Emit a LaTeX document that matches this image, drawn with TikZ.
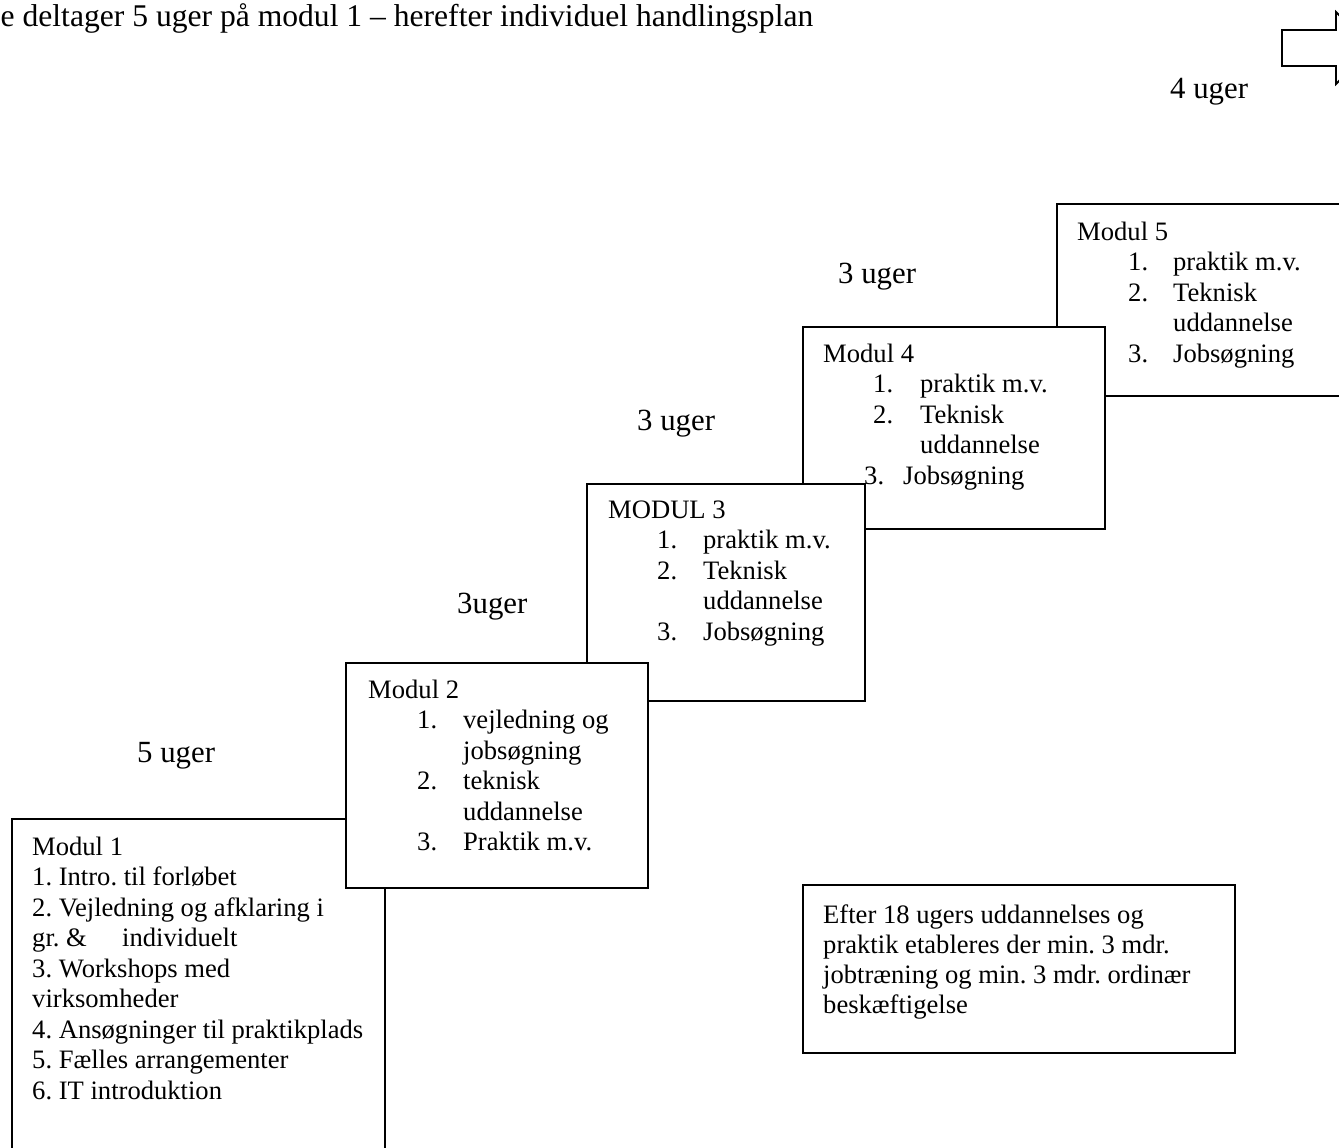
\documentclass[tikz,border=0pt]{standalone}
\usepackage{fontspec}
\setmainfont{Liberation Serif}
\frenchspacing
\begin{document}
\begin{tikzpicture}[x=1pt,y=-1pt,
  box/.style={draw,line width=1.8pt,fill=white,rectangle,inner sep=0pt,outer sep=0pt,anchor=north west},
  body/.style={anchor=base west,inner sep=0pt,font=\fontsize{26.6}{30.5}\selectfont},
  lab/.style={anchor=base west,inner sep=0pt,font=\fontsize{30.8}{36}\selectfont}]
\useasboundingbox (0,0) rectangle (1339,1148);
\clip (0,0) rectangle (1339,1148);
\fill[white] (0,0) rectangle (1339,1148);

% title and arrow
\node[lab,font=\fontsize{31.6}{36}\selectfont] (title) at (0.5,27) {e deltager 5 uger på modul 1 – herefter individuel handlingsplan};
\draw[line width=1.8pt,line join=miter] (1282,30) -- (1336,30) -- (1336,12) -- (1372,48) -- (1336,84) -- (1336,66) -- (1282,66) -- cycle;

% labels
\node[lab] (l4) at (1170,99) {4 uger};
\node[lab] (l3a) at (838,283) {3 uger};
\node[lab] (l3b) at (637,430) {3 uger};
\node[lab] (l3c) at (457,613) {3uger};
\node[lab] (l5) at (137,762) {5 uger};

% Modul 5
\node[box,minimum width=320pt,minimum height=192pt] (m5) at (1057,204) {};
\node[body] (t5) at (1077,240) {\begin{tabular}[t]{@{}l@{}}Modul 5\\
\hspace{51pt}\makebox[45pt][l]{1.}praktik m.v.\\
\hspace{51pt}\makebox[45pt][l]{2.}Teknisk\\
\hspace{96pt}uddannelse\\
\hspace{51pt}\makebox[45pt][l]{3.}Jobsøgning\end{tabular}};

% Modul 4
\node[box,minimum width=302pt,minimum height=202pt] (m4) at (803,327) {};
\node[body] (t4) at (823,362) {\begin{tabular}[t]{@{}l@{}}Modul 4\\
\hspace{50pt}\makebox[47pt][l]{1.}praktik m.v.\\
\hspace{50pt}\makebox[47pt][l]{2.}Teknisk\\
\hspace{97pt}uddannelse\\
\hspace{41pt}\makebox[39pt][l]{3.}Jobsøgning\end{tabular}};

% Modul 3
\node[box,minimum width=278pt,minimum height=217pt] (m3) at (587,484) {};
\node[body] (t3) at (608,518) {\begin{tabular}[t]{@{}l@{}}MODUL 3\\
\hspace{49pt}\makebox[46pt][l]{1.}praktik m.v.\\
\hspace{49pt}\makebox[46pt][l]{2.}Teknisk\\
\hspace{95pt}uddannelse\\
\hspace{49pt}\makebox[46pt][l]{3.}Jobsøgning\end{tabular}};

% Modul 1
\node[box,minimum width=373pt,minimum height=400pt] (m1) at (12,819) {};
\node[body] (t1) at (32,855) {\begin{tabular}[t]{@{}l@{}}Modul 1\\
1. Intro. til forløbet\\
2. Vejledning og afklaring i\\
\makebox[90pt][l]{gr. \&}individuelt\\
3. Workshops med\\
virksomheder\\
4. Ansøgninger til praktikplads\\
5. Fælles arrangementer\\
6. IT introduktion\end{tabular}};

% Modul 2
\node[box,minimum width=302pt,minimum height=225pt] (m2) at (346,663) {};
\node[body] (t2) at (368,698) {\begin{tabular}[t]{@{}l@{}}Modul 2\\
\hspace{49pt}\makebox[46pt][l]{1.}vejledning og\\
\hspace{95pt}jobsøgning\\
\hspace{49pt}\makebox[46pt][l]{2.}teknisk\\
\hspace{95pt}uddannelse\\
\hspace{49pt}\makebox[46pt][l]{3.}Praktik m.v.\end{tabular}};

% Efter box
\node[box,minimum width=432pt,minimum height=168pt] (ef) at (803,885) {};
\node[anchor=base west,inner sep=0pt,font=\fontsize{26.6}{30}\selectfont] (tef) at (823,923) {\begin{tabular}[t]{@{}l@{}}Efter 18 ugers uddannelses og\\
praktik etableres der min. 3 mdr.\\
jobtræning og min. 3 mdr. ordinær\\
beskæftigelse\end{tabular}};
\end{tikzpicture}
\end{document}
